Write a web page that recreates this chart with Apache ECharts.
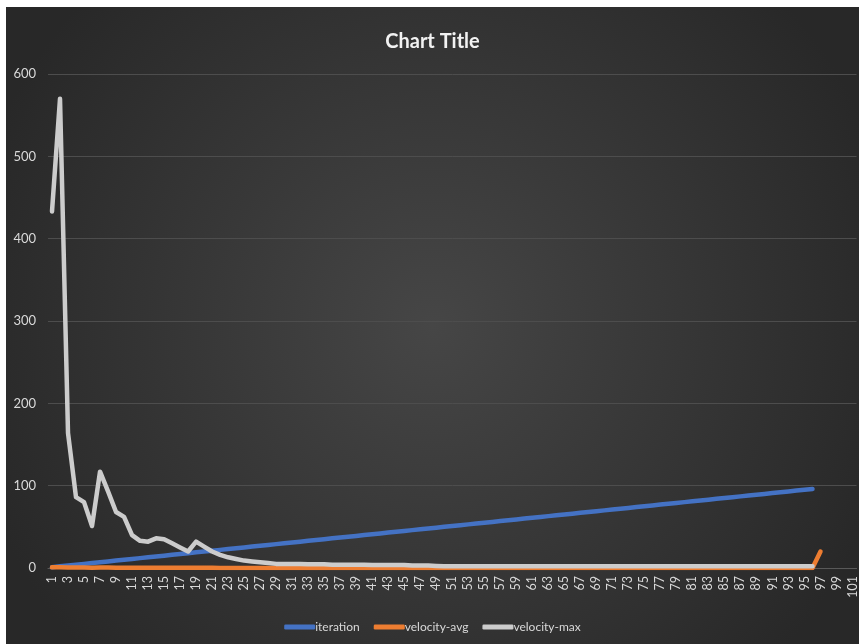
<!DOCTYPE html>
<html>
<head>
<meta charset="utf-8">
<script src="https://cdn.jsdelivr.net/npm/echarts@6/dist/echarts.min.js"></script>
<style>
  html, body { margin: 0; padding: 0; background: #fff; }
  #main { position: absolute; left: 6px; top: 7px; width: 853px; height: 637px; }
</style>
</head>
<body>
<div id="main"></div>
<script>
  // x axis categories
  var categories = ['1', '2', '3', '4', '5', '6', '7', '8', '9', '10', '11', '12', '13', '14', '15', '16', '17', '18', '19', '20',
    '21', '22', '23', '24', '25', '26', '27', '28', '29', '30', '31', '32', '33', '34', '35', '36', '37', '38', '39', '40',
    '41', '42', '43', '44', '45', '46', '47', '48', '49', '50', '51', '52', '53', '54', '55', '56', '57', '58', '59', '60',
    '61', '62', '63', '64', '65', '66', '67', '68', '69', '70', '71', '72', '73', '74', '75', '76', '77', '78', '79', '80',
    '81', '82', '83', '84', '85', '86', '87', '88', '89', '90', '91', '92', '93', '94', '95', '96', '97', '98', '99', '100', '101']

  var iteration = [1, 2, 3, 4, 5, 6, 7, 8, 9, 10, 11, 12, 13, 14, 15, 16, 17, 18, 19, 20,
    21, 22, 23, 24, 25, 26, 27, 28, 29, 30, 31, 32, 33, 34, 35, 36, 37, 38, 39, 40,
    41, 42, 43, 44, 45, 46, 47, 48, 49, 50, 51, 52, 53, 54, 55, 56, 57, 58, 59, 60,
    61, 62, 63, 64, 65, 66, 67, 68, 69, 70, 71, 72, 73, 74, 75, 76, 77, 78, 79, 80,
    81, 82, 83, 84, 85, 86, 87, 88, 89, 90, 91, 92, 93, 94, 95, 96]

  var velocityAvg = [0.8, 1.0, 0.6, 0.5, 0.5, 0.4, 0.6, 0.5, 0.4, 0.4, 0.3, 0.3, 0.3, 0.3, 0.3, 0.2, 0.2, 0.2, 0.2, 0.2,
    0.2, 0.1, 0.1, 0.1, 0.1, 0.1, 0.1, 0.1, 0.1, 0.1, 0.1, 0.1, 0.1, 0.1, 0.1, 0.1, 0.1, 0.1, 0.1, 0.1,
    0.1, 0.1, 0.1, 0.1, 0.1, 0.1, 0.1, 0.1, 0, 0, 0, 0, 0, 0, 0, 0, 0, 0, 0, 0,
    0, 0, 0, 0, 0, 0, 0, 0, 0, 0, 0, 0, 0, 0, 0, 0, 0, 0, 0, 0,
    0, 0, 0, 0, 0, 0, 0, 0, 0, 0, 0, 0, 0, 0, 0, 0, 20]

  var velocityMax = [433, 570, 164, 86, 80, 51, 117, 93, 68, 62, 40, 33, 32, 36, 35, 30, 25, 20, 32, 26,
    20, 16, 13, 11, 9, 8, 7, 6, 5, 5, 5, 5, 4.5, 4.5, 4.5, 4, 4, 4, 4, 4,
    3.5, 3.5, 3.5, 3.5, 3.5, 3, 3, 3, 2.5, 2, 2, 2, 2, 2, 2, 2, 2, 2, 2, 2,
    2, 2, 2, 2, 2, 2, 2, 2, 2, 2, 2, 2, 2, 2, 2, 2, 2, 2, 2, 2,
    2, 2, 2, 2, 2, 2, 2, 2, 2, 2, 2, 2, 2, 2, 2, 2]

  var yTicks = [0, 100, 200, 300, 400, 500, 600]

  var font = 'Lato, "Open Sans", sans-serif'
  var myChart = echarts.init(document.getElementById('main'))

  function lineSeries (name, data, color) {
    return {
      name: name,
      type: 'line',
      data: data,
      showSymbol: false,
      symbol: 'none',
      color: color,
      lineStyle: { width: 4.5, color: color, cap: 'round', join: 'round' },
      emphasis: { disabled: true }
    }
  }

  var option = {
    animation: false,
    backgroundColor: new echarts.graphic.RadialGradient(0.5, 0.5, 0.75, [
      { offset: 0, color: '#464646' },
      { offset: 1, color: '#282828' }
    ]),
    textStyle: { fontFamily: font },
    title: {
      text: 'Chart Title',
      left: 'center',
      top: 20,
      textStyle: { color: '#f2f2f2', fontSize: 20, fontWeight: 'bold', fontFamily: font }
    },
    legend: {
      bottom: 6,
      left: 'center',
      itemWidth: 31,
      itemHeight: 5,
      itemGap: 14,
      icon: 'roundRect',
      textStyle: { color: '#d9d9d9', fontSize: 12, fontFamily: font, padding: [0, 0, 0, -5] },
      data: ['iteration', 'velocity-avg', 'velocity-max']
    },
    grid: {
      left: 42,
      right: -3,
      top: 67,
      bottom: 76
    },
    xAxis: {
      type: 'category',
      data: categories,
      boundaryGap: true,
      axisLine: { show: true, lineStyle: { color: '#595959' } },
      axisTick: { show: false },
      axisLabel: {
        interval: 1,
        rotate: 90,
        margin: 8,
        color: '#d9d9d9',
        fontSize: 12.5,
        fontFamily: font
      }
    },
    yAxis: {
      type: 'value',
      min: yTicks[0],
      max: yTicks[yTicks.length - 1],
      interval: 100,
      axisLine: { show: false },
      axisTick: { show: false },
      splitLine: { lineStyle: { color: '#4d4d4d', width: 1 } },
      axisLabel: { color: '#d9d9d9', fontSize: 13, margin: 12, fontFamily: font }
    },
    series: [
      lineSeries('iteration', iteration, '#4472c4'),
      lineSeries('velocity-avg', velocityAvg, '#ed7d31'),
      lineSeries('velocity-max', velocityMax, '#cccccc')
    ]
  }

  myChart.setOption(option)
</script>
</body>
</html>
